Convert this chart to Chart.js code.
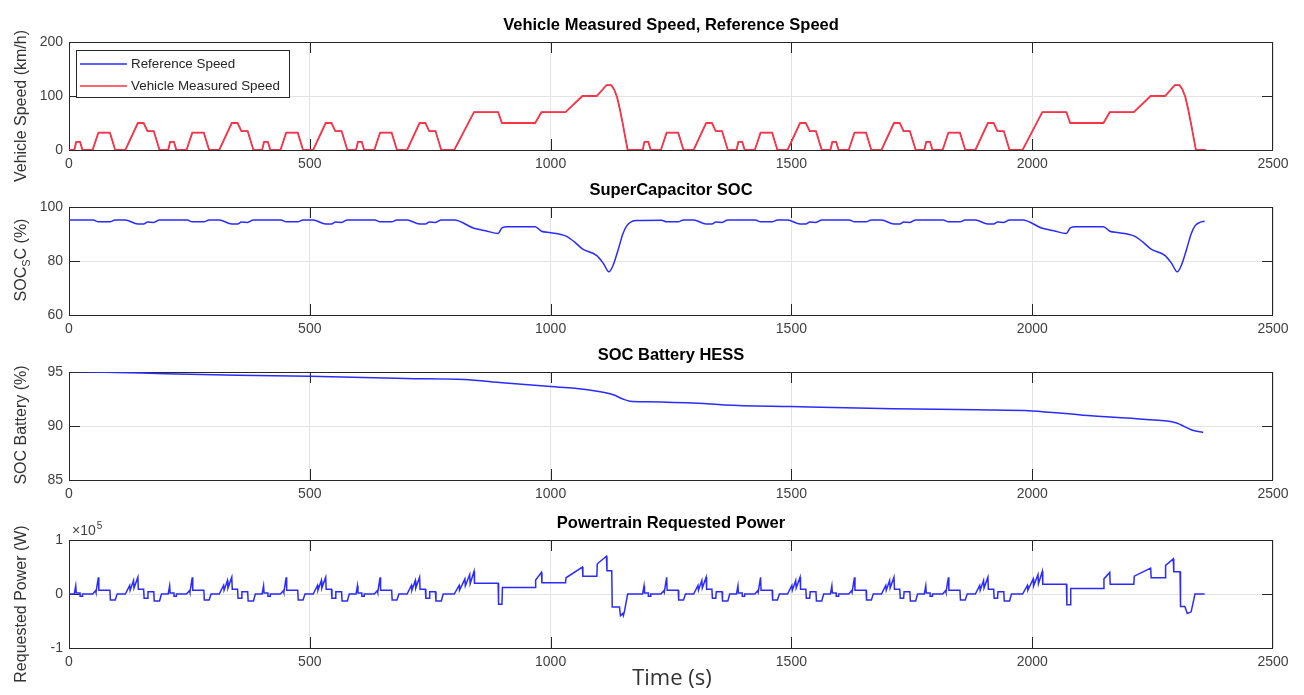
<!DOCTYPE html>
<html>
<head>
<meta charset="utf-8">
<title>HESS Simulation Results</title>
<script src="https://cdn.jsdelivr.net/npm/chart.js"></script>
<style>
    body { margin: 0; background: #fff; }
    #wrap { position: relative; width: 1304px; height: 695px; overflow: hidden; }
    canvas { position: absolute; left: 0; }
    #xlabel {
        position: absolute; left: 0; width: 1344px; top: 661px;
        text-align: center; font: 22px "Open Sans", sans-serif; color: #333;
    }
</style>
</head>
<body>
<div id="wrap">
    <canvas id="c1" width="1304" height="190" style="top:0px"></canvas>
    <canvas id="c2" width="1304" height="180" style="top:165px"></canvas>
    <canvas id="c3" width="1304" height="180" style="top:330px"></canvas>
    <canvas id="c4" width="1304" height="197" style="top:498px"></canvas>
    <div id="xlabel">Time (s)</div>
</div>
<script>
// ---- data: [time (s), value] ----
const xTicks = [0, 500, 1000, 1500, 2000, 2500];

// speed (km/h), two NEDC runs
const speedPts = [
    [0,0],[11,0],[15,15],[23,15],[28,0],[49,0],[61,32],[85,32],[96,0],[117,0],[143,50],[155,50],[163,35],[176,35],[188,0],
    [206,0],[210,15],[218,15],[223,0],[244,0],[256,32],[280,32],[291,0],[312,0],[338,50],[350,50],[358,35],[371,35],[383,0],
    [401,0],[405,15],[413,15],[418,0],[439,0],[451,32],[475,32],[486,0],[507,0],[533,50],[545,50],[553,35],[566,35],[578,0],
    [596,0],[600,15],[608,15],[613,0],[634,0],[646,32],[670,32],[681,0],[702,0],[728,50],[740,50],[748,35],[761,35],[773,0],
    [800,0],[841,70],[891,70],[899,50],[968,50],[981,70],[1031,70],[1066,100],[1096,100],[1116,120],[1126,120],[1132,112],[1138,98],[1144,75],[1150,48],[1155,24],[1160,0],
    [1191,0],[1195,15],[1203,15],[1208,0],[1229,0],[1241,32],[1265,32],[1276,0],[1297,0],[1323,50],[1335,50],[1343,35],[1356,35],[1368,0],
    [1386,0],[1390,15],[1398,15],[1403,0],[1424,0],[1436,32],[1460,32],[1471,0],[1492,0],[1518,50],[1530,50],[1538,35],[1551,35],[1563,0],
    [1581,0],[1585,15],[1593,15],[1598,0],[1619,0],[1631,32],[1655,32],[1666,0],[1687,0],[1713,50],[1725,50],[1733,35],[1746,35],[1758,0],
    [1776,0],[1780,15],[1788,15],[1793,0],[1814,0],[1826,32],[1850,32],[1861,0],[1882,0],[1908,50],[1920,50],[1928,35],[1941,35],[1953,0],
    [1980,0],[2021,70],[2071,70],[2079,50],[2148,50],[2161,70],[2211,70],[2246,100],[2276,100],[2296,120],[2306,120],[2312,112],[2318,98],[2324,75],[2330,48],[2335,24],[2340,0],[2360,0]
];
const refSpeedPts = speedPts;   // reference and measured overlap in the figure

// supercapacitor SOC (%)
const scSocPts = [
    [0,95.2],[50,95.2],[61,94.5],[85,94.5],[96,95.2],[117,95.2],[143,93.7],[155,93.7],[163,94.4],[176,94.3],[188,95.2],
    [245,95.2],[256,94.5],[280,94.5],[291,95.2],[312,95.2],[338,93.7],[350,93.7],[358,94.4],[371,94.3],[383,95.2],
    [440,95.2],[451,94.5],[475,94.5],[486,95.2],[507,95.2],[533,93.7],[545,93.7],[553,94.4],[566,94.3],[578,95.2],
    [635,95.2],[646,94.5],[670,94.5],[681,95.2],[702,95.2],[728,93.7],[740,93.7],[748,94.4],[761,94.3],[773,95.2],
    [800,95.2],[841,92.1],[865,91.2],[891,90.2],[899,92.3],[910,92.7],[968,92.7],[981,91.0],[1000,90.5],[1031,89.3],[1050,87.0],[1066,84.5],[1096,82.0],[1110,79.0],[1121,76.0],[1130,78.5],[1140,84.0],[1150,90.0],[1158,93.0],[1168,94.6],[1180,95.0],
    [1230,95.1],[1241,94.5],[1265,94.5],[1276,95.2],[1297,95.2],[1323,93.7],[1335,93.7],[1343,94.4],[1356,94.3],[1368,95.2],
    [1425,95.2],[1436,94.5],[1460,94.5],[1471,95.2],[1492,95.2],[1518,93.7],[1530,93.7],[1538,94.4],[1551,94.3],[1563,95.2],
    [1620,95.2],[1631,94.5],[1655,94.5],[1666,95.2],[1687,95.2],[1713,93.7],[1725,93.7],[1733,94.4],[1746,94.3],[1758,95.2],
    [1815,95.2],[1826,94.5],[1850,94.5],[1861,95.2],[1882,95.2],[1908,93.7],[1920,93.7],[1928,94.4],[1941,94.3],[1953,95.2],
    [1980,95.2],[2021,92.1],[2045,91.2],[2071,90.2],[2079,92.3],[2090,92.7],[2148,92.7],[2161,91.0],[2180,90.5],[2211,89.3],[2230,87.0],[2246,84.5],[2276,82.0],[2290,79.0],[2301,76.0],[2310,78.5],[2320,84.0],[2330,90.0],[2338,93.0],[2348,94.3],[2358,94.7]
];

// battery SOC (%)
const batSocPts = [
    [0,95.06],[150,94.9],[350,94.7],[500,94.6],[700,94.4],[820,94.3],[900,94.0],[1000,93.65],[1050,93.5],[1100,93.2],
    [1130,92.9],[1150,92.5],[1165,92.3],[1200,92.25],[1307,92.1],[1360,91.95],[1500,91.8],[1711,91.6],[1886,91.5],
    [2000,91.4],[2105,91.0],[2237,90.6],[2298,90.3],[2333,89.6],[2355,89.4]
];

// requested power (W)
const powerPts = [
    [0,0],[11,0],[14,15000],[15,2000],[23,2000],[23,-4000],[28,-4000],[28,0],[49,0],[55,6000],[56,3000],[61,31000],[62,7000],[85,7000],[86,-11000],[96,-11000],[100,0],[117,0],[126,16000],[127,7000],[134,25000],[135,11000],[143,31000],[144,9000],[155,9000],[156,-8000],[163,-8000],[164,4000],[176,4000],[177,-13000],[188,-13000],[192,0],
    [206,0],[209,15000],[210,2000],[218,2000],[218,-4000],[223,-4000],[223,0],[244,0],[250,6000],[251,3000],[256,31000],[257,7000],[280,7000],[281,-11000],[291,-11000],[295,0],[312,0],[321,16000],[322,7000],[329,25000],[330,11000],[338,31000],[339,9000],[350,9000],[351,-8000],[358,-8000],[359,4000],[371,4000],[372,-13000],[383,-13000],[387,0],
    [401,0],[404,15000],[405,2000],[413,2000],[413,-4000],[418,-4000],[418,0],[439,0],[445,6000],[446,3000],[451,31000],[452,7000],[475,7000],[476,-11000],[486,-11000],[490,0],[507,0],[516,16000],[517,7000],[524,25000],[525,11000],[533,31000],[534,9000],[545,9000],[546,-8000],[553,-8000],[554,4000],[566,4000],[567,-13000],[578,-13000],[582,0],
    [596,0],[599,15000],[600,2000],[608,2000],[608,-4000],[613,-4000],[613,0],[634,0],[640,6000],[641,3000],[646,31000],[647,7000],[670,7000],[671,-11000],[681,-11000],[685,0],[702,0],[711,16000],[712,7000],[719,25000],[720,11000],[728,31000],[729,9000],[740,9000],[741,-8000],[748,-8000],[749,4000],[761,4000],[762,-13000],[773,-13000],[777,0],
    [800,0],[810,16000],[811,7000],[822,28000],[823,15000],[832,36000],[833,19000],[841,42000],[842,20000],[891,20000],[892,-19000],[899,-19000],[900,12000],[968,12000],[969,26000],[981,40000],[982,21000],[1031,21000],[1032,30000],[1066,50000],[1067,33000],[1096,33000],[1097,56000],[1116,70000],[1117,43000],[1127,43000],[1128,-24000],[1143,-24000],[1145,-40000],[1150,-36000],[1151,-40000],[1153,-34000],[1160,0],
    [1191,0],[1194,15000],[1195,2000],[1203,2000],[1203,-4000],[1208,-4000],[1208,0],[1229,0],[1235,6000],[1236,3000],[1241,31000],[1242,7000],[1265,7000],[1266,-11000],[1276,-11000],[1280,0],[1297,0],[1306,16000],[1307,7000],[1314,25000],[1315,11000],[1323,31000],[1324,9000],[1335,9000],[1336,-8000],[1343,-8000],[1344,4000],[1356,4000],[1357,-13000],[1368,-13000],[1372,0],
    [1386,0],[1389,15000],[1390,2000],[1398,2000],[1398,-4000],[1403,-4000],[1403,0],[1424,0],[1430,6000],[1431,3000],[1436,31000],[1437,7000],[1460,7000],[1461,-11000],[1471,-11000],[1475,0],[1492,0],[1501,16000],[1502,7000],[1509,25000],[1510,11000],[1518,31000],[1519,9000],[1530,9000],[1531,-8000],[1538,-8000],[1539,4000],[1551,4000],[1552,-13000],[1563,-13000],[1567,0],
    [1581,0],[1584,15000],[1585,2000],[1593,2000],[1593,-4000],[1598,-4000],[1598,0],[1619,0],[1625,6000],[1626,3000],[1631,31000],[1632,7000],[1655,7000],[1656,-11000],[1666,-11000],[1670,0],[1687,0],[1696,16000],[1697,7000],[1704,25000],[1705,11000],[1713,31000],[1714,9000],[1725,9000],[1726,-8000],[1733,-8000],[1734,4000],[1746,4000],[1747,-13000],[1758,-13000],[1762,0],
    [1776,0],[1779,15000],[1780,2000],[1788,2000],[1788,-4000],[1793,-4000],[1793,0],[1814,0],[1820,6000],[1821,3000],[1826,31000],[1827,7000],[1850,7000],[1851,-11000],[1861,-11000],[1865,0],[1882,0],[1891,16000],[1892,7000],[1899,25000],[1900,11000],[1908,31000],[1909,9000],[1920,9000],[1921,-8000],[1928,-8000],[1929,4000],[1941,4000],[1942,-13000],[1953,-13000],[1957,0],
    [1980,0],[1990,16000],[1991,7000],[2002,28000],[2003,15000],[2012,36000],[2013,19000],[2021,42000],[2022,18000],[2071,18000],[2072,-20000],[2079,-20000],[2080,10000],[2148,10000],[2149,28000],[2161,40000],[2162,18000],[2211,18000],[2212,33000],[2246,48000],[2247,30000],[2276,30000],[2277,53000],[2293,65000],[2294,41000],[2307,41000],[2308,-23000],[2317,-23000],[2322,-36000],[2330,-33000],[2338,0],[2358,0]
];

const titles = ['Vehicle Measured Speed, Reference Speed', 'SuperCapacitor SOC', 'SOC Battery HESS', 'Powertrain Requested Power'];

const BLUE = '#2b2bff';
const RED = '#ff3344';
const AXIS = '#262626';
const TICK_FONT = { family: '"Liberation Sans", Arial, sans-serif', size: 14 };

// box around the axes + inward ticks (MATLAB look)
const framePlugin = {
    id: 'frame',
    beforeDatasetsDraw(chart) {
        const { ctx, chartArea: a, scales: { x, y } } = chart;
        ctx.save();
        ctx.strokeStyle = AXIS;
        ctx.lineWidth = 1;
        ctx.strokeRect(a.left + 0.5, a.top + 0.5, a.right - a.left - 1, a.bottom - a.top);
        ctx.beginPath();
        x.ticks.forEach(t => {
            const px = Math.round(x.getPixelForValue(t.value)) + 0.5;
            if (px < a.left + 2 || px > a.right - 2) return;
            ctx.moveTo(px, a.top); ctx.lineTo(px, a.top + 11);
            ctx.moveTo(px, a.bottom); ctx.lineTo(px, a.bottom - 11);
        });
        y.ticks.forEach(t => {
            const py = Math.round(y.getPixelForValue(t.value)) + 0.5;
            if (py < a.top + 2 || py > a.bottom - 2) return;
            ctx.moveTo(a.left, py); ctx.lineTo(a.left + 11, py);
            ctx.moveTo(a.right, py); ctx.lineTo(a.right - 11, py);
        });
        ctx.stroke();
        ctx.restore();
    }
};

// rotated y label with optional subscript parts
const sideLabelPlugin = {
    id: 'sideLabel',
    afterDraw(chart, args, opts) {
        if (!opts.parts) return;
        const ctx = chart.ctx;
        const big = '16px "Liberation Sans", Arial, sans-serif';
        const small = '11px "Liberation Sans", Arial, sans-serif';
        ctx.save();
        ctx.translate(opts.x, opts.y);
        ctx.rotate(-Math.PI / 2);
        let w = 0;
        opts.parts.forEach(p => { ctx.font = p.sub ? small : big; w += ctx.measureText(p.t).width; });
        let cx = -w / 2;
        ctx.fillStyle = '#333';
        ctx.textBaseline = 'middle';
        opts.parts.forEach(p => {
            ctx.font = p.sub ? small : big;
            ctx.fillText(p.t, cx, p.sub ? 5 : 0);
            cx += ctx.measureText(p.t).width;
        });
        ctx.restore();
    }
};

// legend box inside the top panel
const boxLegendPlugin = {
    id: 'boxLegend',
    afterDraw(chart, args, opts) {
        if (!opts.show) return;
        const ctx = chart.ctx;
        const a = chart.chartArea;
        const x0 = a.left + 7, y0 = a.top + 8, w = 213, h = 47;
        ctx.save();
        ctx.fillStyle = '#fff';
        ctx.fillRect(x0, y0, w, h);
        ctx.strokeStyle = AXIS;
        ctx.lineWidth = 1;
        ctx.strokeRect(x0 + 0.5, y0 + 0.5, w, h);
        ctx.font = '13.4px "Liberation Sans", Arial, sans-serif';
        ctx.textBaseline = 'middle';
        chart.data.datasets.forEach((ds, i) => {
            const yy = y0 + 14 + i * 22;
            ctx.strokeStyle = ds.borderColor;
            ctx.lineWidth = 1.5;
            ctx.beginPath();
            ctx.moveTo(x0 + 4, yy); ctx.lineTo(x0 + 51, yy);
            ctx.stroke();
            ctx.fillStyle = '#262626';
            ctx.fillText(ds.label, x0 + 55, yy);
        });
        ctx.restore();
    }
};

// "x10^5" exponent label for the power axis
const exponentPlugin = {
    id: 'exponent',
    afterDraw(chart, args, opts) {
        if (!opts.show) return;
        const ctx = chart.ctx;
        const a = chart.chartArea;
        ctx.save();
        ctx.fillStyle = '#404040';
        ctx.textBaseline = 'alphabetic';
        ctx.font = '14px "Liberation Sans", Arial, sans-serif';
        const base = '\u00d710';
        ctx.fillText(base, a.left + 3, a.top - 5);
        const bw = ctx.measureText(base).width;
        ctx.font = '10px "Liberation Sans", Arial, sans-serif';
        ctx.fillText('5', a.left + 3 + bw + 1, a.top - 11);
        ctx.restore();
    }
};

function toXY(pts) {
    return pts.map(p => ({ x: p[0], y: p[1] }));
}

function makePanel(id, cfg) {
    const canvas = document.getElementById(id);
    const H = canvas.height;
    return new Chart(canvas, {
        type: 'line',
        data: { datasets: cfg.datasets },
        options: {
            responsive: false,
            animation: false,
            layout: { padding: { left: 0, right: 31, top: 0, bottom: 0 } },
            elements: { point: { radius: 0 }, line: { borderWidth: 1.5 } },
            plugins: {
                legend: { display: false },
                tooltip: { enabled: false },
                title: {
                    display: true,
                    text: cfg.title,
                    fullSize: false,
                    color: '#000',
                    font: { family: '"Liberation Sans", Arial, sans-serif', size: 16.5, weight: 'bold' },
                    padding: { top: 16, bottom: 6.2 }
                },
                sideLabel: { parts: cfg.yLabel, x: 22, y: cfg.yLabelY },
                boxLegend: { show: !!cfg.legend },
                exponent: { show: !!cfg.exponent }
            },
            scales: {
                x: {
                    type: 'linear',
                    min: xTicks[0],
                    max: xTicks[xTicks.length - 1],
                    afterBuildTicks: s => { s.ticks = xTicks.map(v => ({ value: v })); },
                    afterFit: s => { s.height = H - 150; },
                    ticks: { color: '#404040', font: TICK_FONT, padding: 6, maxRotation: 0, callback: v => String(v) },
                    grid: { color: '#e3e3e3', drawTicks: false },
                    border: { display: false }
                },
                y: {
                    min: cfg.yTicks[0],
                    max: cfg.yTicks[cfg.yTicks.length - 1],
                    afterBuildTicks: s => { s.ticks = cfg.yTicks.map(v => ({ value: v })); },
                    afterFit: s => { s.width = 69; },
                    ticks: {
                        color: '#404040', font: TICK_FONT, padding: 6,
                        callback: cfg.yFmt || (v => String(v))
                    },
                    grid: { color: '#e3e3e3', drawTicks: false },
                    border: { display: false }
                }
            }
        },
        plugins: [framePlugin, sideLabelPlugin, boxLegendPlugin, exponentPlugin]
    });
}

makePanel('c1', {
    title: titles[0],
    yTicks: [0, 100, 200],
    yLabel: [{ t: 'Vehicle Speed (km/h)' }],
    yLabelY: 106,
    legend: true,
    datasets: [
        { label: 'Reference Speed', data: toXY(refSpeedPts), borderColor: BLUE, borderWidth: 1, order: 1 },
        { label: 'Vehicle Measured Speed', data: toXY(speedPts), borderColor: RED, borderWidth: 1.8, order: 0 }
    ]
});

makePanel('c2', {
    title: titles[1],
    yTicks: [60, 80, 100],
    yLabel: [{ t: 'SOC' }, { t: 'S', sub: true }, { t: 'C (%)' }],
    yLabelY: 95,
    datasets: [
        { label: 'SOC SC', data: toXY(scSocPts), borderColor: BLUE, cubicInterpolationMode: 'monotone' }
    ]
});

makePanel('c3', {
    title: titles[2],
    yTicks: [85, 90, 95],
    yLabel: [{ t: 'SOC Battery (%)' }],
    yLabelY: 95,
    datasets: [
        { label: 'SOC Battery', data: toXY(batSocPts), borderColor: BLUE, cubicInterpolationMode: 'monotone' }
    ]
});

makePanel('c4', {
    title: titles[3],
    yTicks: [-100000, 0, 100000],
    yFmt: v => String(v / 100000),
    yLabel: [{ t: 'Requested Power (W)' }],
    yLabelY: 106,
    exponent: true,
    datasets: [
        { label: 'Requested Power', data: toXY(powerPts), borderColor: BLUE }
    ]
});
</script>
</body>
</html>
